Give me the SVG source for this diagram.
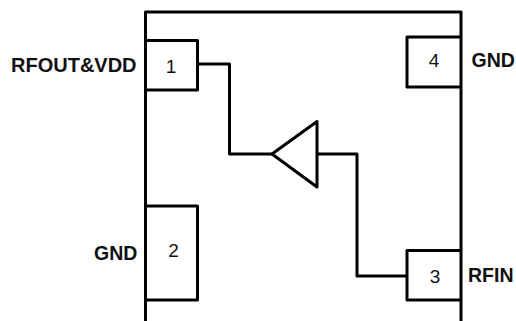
<svg xmlns="http://www.w3.org/2000/svg" width="516" height="321" viewBox="0 0 516 321">
<style>
.l{fill:none;stroke:#000;stroke-width:3;stroke-linejoin:round}
.n{font:19px "Liberation Sans",Arial,sans-serif;fill:#111;text-anchor:middle}
.t{font:bold 19.500px "Liberation Sans",Arial,sans-serif;fill:#111}
</style>
<rect width="516" height="321" fill="#fff"/>
<g id="package"><path class="l" d="M145.5 321V12H461V321"/></g>
<g id="pin1"><path class="l" d="M145.5 40.500H197.500V90H145.500"/><text class="n" x="171" y="73">1</text><text class="t" style="font-size:20px" x="11" y="72">RFOUT&amp;VDD</text></g>
<g id="pin2"><path class="l" d="M145.500 206H197.500V300H145.500"/><text class="n" x="173.500" y="257">2</text><text class="t" x="94" y="259.500">GND</text></g>
<g id="pin3"><path class="l" d="M461 250.500H407V300H461"/><text class="n" x="435" y="283">3</text><text class="t" x="468" y="282">RFIN</text></g>
<g id="pin4"><path class="l" d="M461 37H407V87H461"/><text class="n" x="434" y="67">4</text><text class="t" x="471.500" y="67">GND</text></g>
<g id="amplifier"><path class="l" d="M272 154L317 121.500V187Z"/></g>
<g id="connectors"><path class="l" d="M197.500 64H229.500V154H272"/><path class="l" d="M317 154H357V276H407"/></g>
</svg>
